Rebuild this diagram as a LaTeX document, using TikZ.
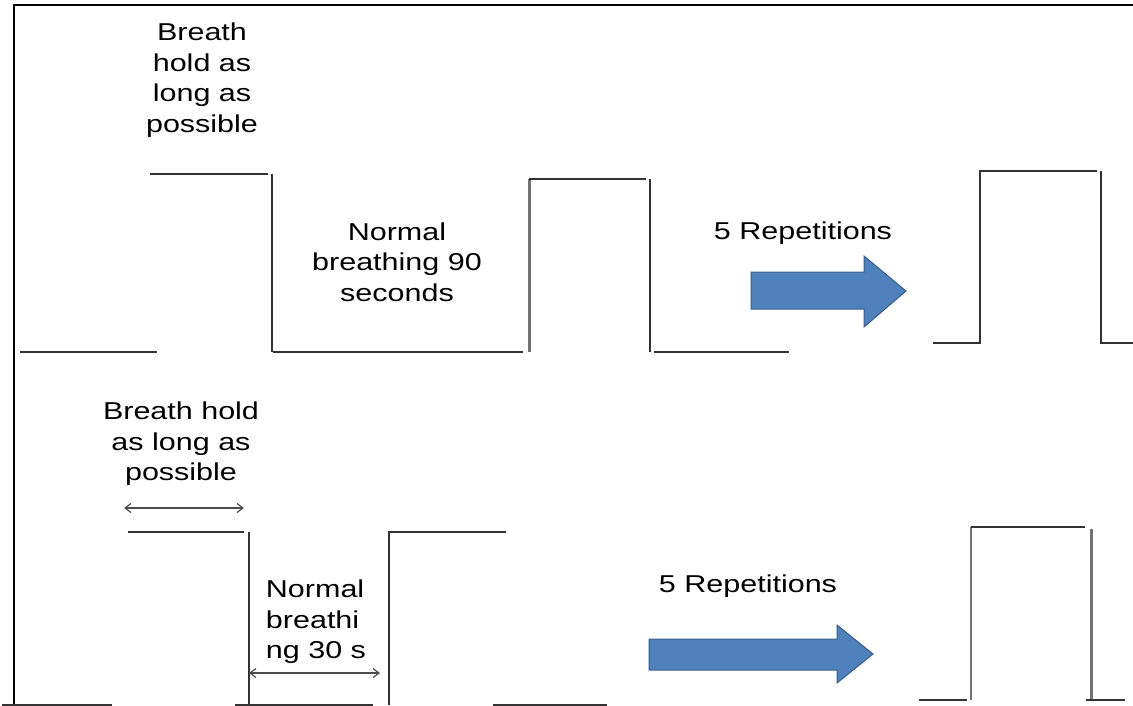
\documentclass[tikz,border=0pt]{standalone}
\usepackage{fontspec}
\setmainfont{Liberation Sans}[FakeStretch=1.25]
\usepackage{xcolor}
\usetikzlibrary{arrows.meta}
\definecolor{repblue}{HTML}{4F81BD}
\definecolor{repedge}{HTML}{385D8A}

\begin{document}
\begin{tikzpicture}[
  x=1pt, y=-1pt,
  wave/.style={draw=black!80, line width=2pt},
  wavegray/.style={draw=black!55, line width=3pt},
  frame/.style={draw=black, line width=2.5pt},
  lbl/.style={align=center, inner sep=0pt, font=\fontsize{24.4}{30.5}\selectfont},
  bigarr/.style={fill=repblue, draw=repedge, line width=1pt},
  span/.style={{Straight Barb[length=6pt,width=9pt]}-{Straight Barb[length=6pt,width=9pt]}, draw=black!70, line width=1.2pt}
]
\useasboundingbox (0,0) rectangle (1133,706);
% frame
\draw[frame] (14,706) -- (14,5) -- (1133,5);

% top row: 90 s protocol
\draw[wave] (20,352) -- (157,352);
\draw[wave] (150,174) -- (268,174);
\draw[wave] (272,174) -- (272,352);
\draw[wave] (273,352) -- (523,352);
\draw[wavegray] (529,179) -- (529,352);
\draw[wave] (529,179) -- (646,179);
\draw[wave] (650,179) -- (650,352);
\draw[wave] (654,352) -- (789,352);
\draw[wave] (933,343) -- (980,343) -- (980,171) -- (1097,171);
\draw[wave] (1101,171) -- (1101,343) -- (1133,343);

\node[lbl] (hold1) at (202,80) {Breath\\hold as\\long as\\possible};
\node[lbl] (norm1) at (397,262) {Normal\\breathing 90\\seconds};
\node[lbl] (rep1) at (803,233) {5 Repetitions};
\draw[bigarr] (751,272) -- (864,272) -- (864,256) -- (906,291) -- (864,327) -- (864,309) -- (751,309) -- cycle;

% bottom row: 30 s protocol
\draw[wave] (2,705) -- (112,705);
\draw[wave] (128,532) -- (244,532);
\draw[wave] (249,532) -- (249,705);
\draw[wave] (235,705) -- (373,705);
\draw[wave] (389,705) -- (389,532) -- (506,532);
\draw[wave] (493,705) -- (607,705);
\draw[wave] (919,700) -- (967,700);
\draw[wavegray, line width=2.2pt] (971,700) -- (971,527);
\draw[wave, line width=1.6pt] (971,527) -- (1085,527);
\draw[wavegray] (1091,529) -- (1091,700);
\draw[wave] (1086,700) -- (1125,700);

\node[lbl] (hold2) at (181,444) {Breath hold\\as long as\\possible};
\node[lbl, align=left] (norm2) at (316,622) {Normal\\breathi\\ng 30 s};
\node[lbl] (rep2) at (748,586) {5 Repetitions};
\draw[bigarr] (649,639) -- (837,639) -- (837,625) -- (873,654) -- (837,683) -- (837,670) -- (649,670) -- cycle;

\coordinate (hs) at (124,508);
\coordinate (he) at (244,508);
\coordinate (ns) at (249,673);
\coordinate (ne) at (380,673);
\draw[span] (hs) -- (he);
\draw[span] (ns) -- (ne);
\end{tikzpicture}
\end{document}
